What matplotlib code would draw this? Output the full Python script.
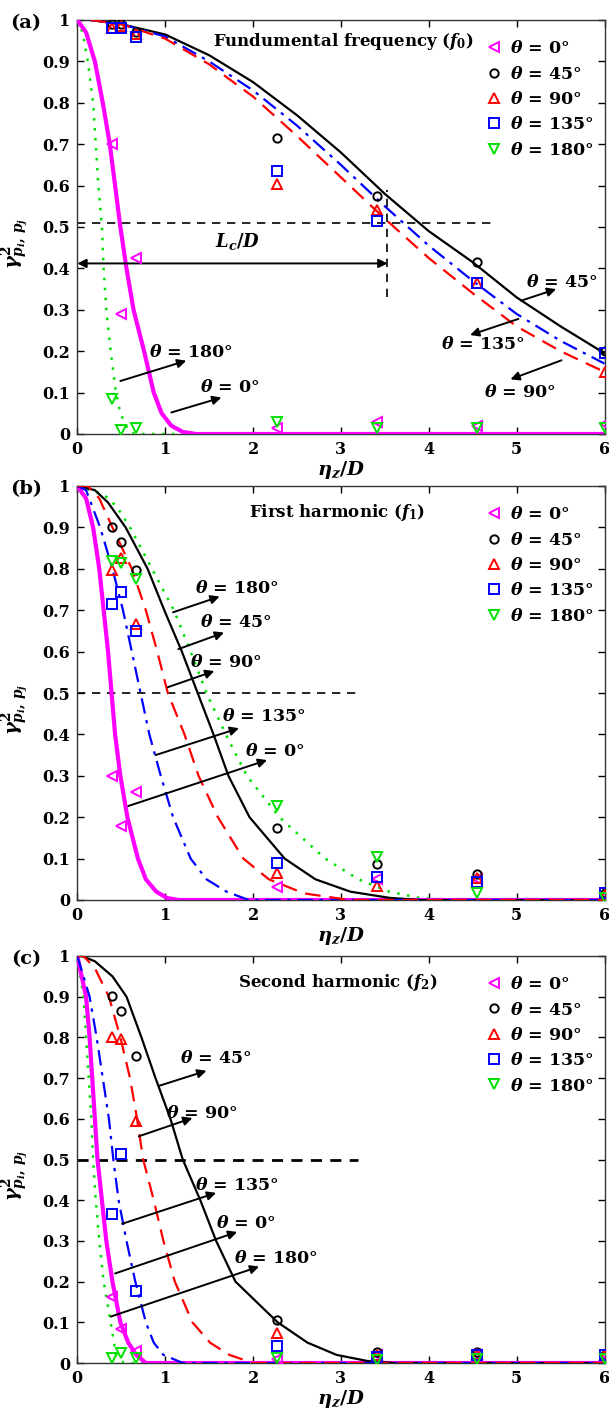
import matplotlib
matplotlib.use("Agg")
import matplotlib.pyplot as plt
import numpy as np

plt.rcParams.update({
    'font.family': 'DejaVu Serif',
    'font.weight': 'bold',
    'mathtext.fontset': 'custom',
    'mathtext.rm': 'DejaVu Serif:bold',
    'mathtext.it': 'DejaVu Serif:italic:bold',
    'mathtext.bf': 'DejaVu Serif:bold',
})

# ---------------- data ----------------
theta_labels = [r'$\theta$ = 0°', r'$\theta$ = 45°', r'$\theta$ = 90°', r'$\theta$ = 135°', r'$\theta$ = 180°']
x_meas = [0.4, 0.5, 0.67, 2.27, 3.41, 4.55, 6.0]

# Panel (a): fundamental frequency
a_m0 = [0.70, 0.29, 0.425, 0.015, 0.03, 0.02, 0.025]
a_m45 = [0.99, 0.99, 0.97, 0.715, 0.575, 0.415, 0.20]
a_m90 = [0.98, 0.985, 0.965, 0.605, 0.54, 0.365, 0.15]
a_m135 = [0.98, 0.98, 0.96, 0.635, 0.515, 0.365, 0.195]
a_m180 = [0.085, 0.01, 0.015, 0.03, 0.015, 0.015, 0.015]

a_c0_x = [0, 0.1, 0.2, 0.29, 0.37, 0.43, 0.49, 0.56, 0.64, 0.76, 0.87, 0.96, 1.07, 1.2, 1.35, 6.0]
a_c0_y = [1, 0.97, 0.9, 0.8, 0.7, 0.6, 0.5, 0.4, 0.3, 0.2, 0.1, 0.05, 0.02, 0.005, 0, 0]
a_c180_x = [0, 0.06, 0.12, 0.18, 0.21, 0.24, 0.28, 0.30, 0.33, 0.38, 0.44, 0.49, 0.58, 0.65, 1.3]
a_c180_y = [1, 0.97, 0.9, 0.8, 0.7, 0.6, 0.5, 0.4, 0.3, 0.2, 0.1, 0.05, 0.01, 0, 0]
a_c_x = [0.15, 0.5, 1.0, 1.5, 2.0, 2.5, 3.0, 3.5, 4.0, 4.5, 5.0, 5.5, 6.0]
a_c45_y = [1.0, 0.99, 0.965, 0.915, 0.85, 0.77, 0.68, 0.58, 0.49, 0.415, 0.33, 0.26, 0.195]
a_c135_y = [1.0, 0.99, 0.96, 0.90, 0.83, 0.745, 0.65, 0.55, 0.455, 0.37, 0.29, 0.225, 0.17]
a_c90_y = [1.0, 0.99, 0.955, 0.893, 0.815, 0.72, 0.62, 0.52, 0.425, 0.34, 0.26, 0.20, 0.15]

# Panel (b): first harmonic
b_m0 = [0.30, 0.178, 0.26, 0.032, 0.05, 0.05, 0.01]
b_m45 = [0.90, 0.864, 0.797, 0.175, 0.086, 0.063, 0.018]
b_m90 = [0.797, 0.825, 0.667, 0.066, 0.034, 0.052, 0.012]
b_m135 = [0.714, 0.745, 0.65, 0.089, 0.056, 0.044, 0.017]
b_m180 = [0.82, 0.815, 0.775, 0.227, 0.104, 0.018, 0.005]

b_c0_x = [0, 0.1, 0.18, 0.25, 0.30, 0.35, 0.39, 0.43, 0.49, 0.57, 0.69, 0.78, 0.90, 1.02, 1.15, 6.0]
b_c0_y = [1, 0.97, 0.9, 0.8, 0.7, 0.6, 0.5, 0.4, 0.3, 0.2, 0.1, 0.05, 0.02, 0.005, 0, 0]
b_c135_x = [0, 0.1, 0.26, 0.40, 0.52, 0.62, 0.72, 0.82, 0.95, 1.09, 1.29, 1.47, 1.70, 1.95, 6.0]
b_c135_y = [1, 0.99, 0.9, 0.8, 0.7, 0.6, 0.5, 0.4, 0.3, 0.2, 0.1, 0.05, 0.02, 0, 0]
b_c90_x = [0, 0.12, 0.25, 0.40, 0.62, 0.78, 0.91, 1.03, 1.22, 1.38, 1.60, 1.89, 2.18, 2.58, 3.1, 6.0]
b_c90_y = [1, 1, 0.97, 0.9, 0.8, 0.7, 0.6, 0.5, 0.4, 0.3, 0.2, 0.1, 0.05, 0.016, 0, 0]
b_c45_x = [0, 0.2, 0.35, 0.55, 0.80, 0.99, 1.19, 1.37, 1.55, 1.72, 1.96, 2.36, 2.71, 3.11, 3.56, 3.9, 6.0]
b_c45_y = [1, 0.99, 0.96, 0.9, 0.8, 0.7, 0.6, 0.5, 0.4, 0.3, 0.2, 0.1, 0.05, 0.02, 0.005, 0, 0]
b_c180_x = [0, 0.3, 0.45, 0.60, 0.85, 1.10, 1.29, 1.47, 1.69, 1.93, 2.30, 2.82, 3.20, 3.55, 3.90, 4.2, 6.0]
b_c180_y = [1, 0.98, 0.95, 0.9, 0.8, 0.7, 0.6, 0.5, 0.4, 0.3, 0.2, 0.1, 0.05, 0.02, 0.005, 0, 0]

# Panel (c): second harmonic
c_m0 = [0.162, 0.084, 0.029, 0.01, 0.02, 0.02, 0.02]
c_m45 = [0.902, 0.866, 0.754, 0.106, 0.028, 0.026, 0.02]
c_m90 = [0.80, 0.795, 0.594, 0.073, 0.02, 0.022, 0.02]
c_m135 = [0.365, 0.514, 0.176, 0.041, 0.015, 0.02, 0.02]
c_m180 = [0.012, 0.024, 0.012, 0.012, 0.008, 0.01, 0.01]

c_c0_x = [0, 0.1, 0.14, 0.17, 0.20, 0.23, 0.28, 0.33, 0.40, 0.49, 0.58, 0.67, 0.78, 6.0]
c_c0_y = [1, 0.9, 0.8, 0.7, 0.6, 0.5, 0.4, 0.3, 0.2, 0.1, 0.05, 0.02, 0, 0]
c_c180_x = [0, 0.07, 0.10, 0.13, 0.16, 0.18, 0.21, 0.25, 0.30, 0.38, 0.44, 0.53, 6.0]
c_c180_y = [1, 0.9, 0.8, 0.7, 0.6, 0.5, 0.4, 0.3, 0.2, 0.1, 0.02, 0, 0]
c_c135_x = [0, 0.14, 0.22, 0.29, 0.36, 0.41, 0.47, 0.56, 0.66, 0.78, 0.87, 0.98, 1.2, 6.0]
c_c135_y = [1, 0.9, 0.8, 0.7, 0.6, 0.5, 0.4, 0.3, 0.2, 0.1, 0.05, 0.02, 0, 0]
c_c90_x = [0, 0.07, 0.2, 0.36, 0.49, 0.60, 0.68, 0.75, 0.87, 0.98, 1.11, 1.31, 1.51, 1.73, 2.0, 6.0]
c_c90_y = [1, 1, 0.97, 0.9, 0.8, 0.7, 0.6, 0.5, 0.4, 0.3, 0.2, 0.1, 0.05, 0.02, 0, 0]
c_c45_x = [0, 0.05, 0.2, 0.4, 0.56, 0.73, 0.89, 1.06, 1.20, 1.40, 1.58, 1.80, 2.28, 2.62, 2.95, 3.3, 3.6, 6.0]
c_c45_y = [1, 1, 0.987, 0.95, 0.9, 0.8, 0.7, 0.6, 0.5, 0.4, 0.3, 0.2, 0.1, 0.05, 0.02, 0.005, 0, 0]

titles = ['Fundumental frequency ($f_0$)', 'First harmonic ($f_1$)', 'Second harmonic ($f_2$)']
panel_tags = ['(a)', '(b)', '(c)']

# annotations: (text, text_x, text_y, tail_x, tail_y, head_x, head_y)
a_notes = [
    (r'$\theta$ = 45°', 5.51, 0.365, 5.05, 0.322, 5.45, 0.35),
    (r'$\theta$ = 135°', 4.62, 0.215, 5.02, 0.278, 4.47, 0.239),
    (r'$\theta$ = 90°', 5.04, 0.10, 5.51, 0.178, 4.93, 0.132),
    (r'$\theta$ = 180°', 1.29, 0.197, 0.49, 0.128, 1.24, 0.177),
    (r'$\theta$ = 0°', 1.73, 0.112, 1.07, 0.052, 1.64, 0.088),
]
b_notes = [
    (r'$\theta$ = 180°', 1.82, 0.752, 1.09, 0.695, 1.62, 0.733),
    (r'$\theta$ = 45°', 1.80, 0.67, 1.15, 0.606, 1.67, 0.646),
    (r'$\theta$ = 90°', 1.69, 0.573, 1.03, 0.514, 1.56, 0.553),
    (r'$\theta$ = 135°', 2.12, 0.443, 0.89, 0.35, 1.84, 0.415),
    (r'$\theta$ = 0°', 2.25, 0.358, 0.58, 0.227, 2.16, 0.338),
]
c_notes = [
    (r'$\theta$ = 45°', 1.58, 0.747, 0.93, 0.681, 1.47, 0.718),
    (r'$\theta$ = 90°', 1.42, 0.614, 0.70, 0.557, 1.31, 0.602),
    (r'$\theta$ = 135°', 1.82, 0.437, 0.51, 0.342, 1.58, 0.418),
    (r'$\theta$ = 0°', 1.92, 0.343, 0.43, 0.22, 1.82, 0.322),
    (r'$\theta$ = 180°', 2.26, 0.257, 0.38, 0.114, 2.07, 0.237),
]

# ---------------- styles ----------------
col = {'m': '#ff00ff', 'k': 'black', 'r': '#ff0000', 'b': '#0000ff', 'g': '#00e000'}
mk = [('<', col['m']), ('o', col['k']), ('^', col['r']), ('s', col['b']), ('v', col['g'])]
ms_list = [7, 6, 7.5, 7.5, 7.5]

fig = plt.figure(figsize=(6.09, 14.12), dpi=100)
L, W = 77.3 / 609, (604.5 - 77.3) / 609
rects = [(20, 434), (486, 900), (956, 1363)]

def style_axes(ax):
    ax.set_xlim(0, 6)
    ax.set_ylim(0, 1)
    ax.set_xticks(range(7))
    ax.set_yticks(np.round(np.arange(0, 1.01, 0.1), 1))
    ax.set_yticklabels(['%g' % v for v in np.round(np.arange(0, 1.01, 0.1), 1)])
    ax.tick_params(direction='in', top=True, right=True, length=5, width=1,
                   labelsize=11.5, pad=5)
    for lab in ax.get_xticklabels() + ax.get_yticklabels():
        lab.set_fontweight('bold')
    for s in ax.spines.values():
        s.set_linewidth(1.0)
        s.set_color('#333333')
    ax.set_xlabel(r'$\eta_z/D$', fontsize=14, labelpad=0.5)
    ax.set_ylabel(r'$\gamma^2_{p_i,\,p_j}$', fontsize=14, labelpad=2)
    ax.yaxis.set_label_coords(-0.088, 0.46)

def markers(ax, series):
    for (m, c), y, ms in zip(mk, series, ms_list):
        ax.plot(x_meas, y, linestyle='none', marker=m, ms=ms, mfc='none',
                mec=c, mew=1.4, zorder=5)

def notes(ax, items):
    for t, tx, ty, x0, y0, x1, y1 in items:
        ax.annotate('', xy=(x1, y1), xytext=(x0, y0),
                    arrowprops=dict(arrowstyle='-|>', color='k', lw=1.4,
                                    mutation_scale=13, shrinkA=0, shrinkB=0), zorder=6)
        ax.text(tx, ty, t, ha='center', va='center', fontsize=12.5, zorder=7)

def legend(ax):
    hs = []
    for (m, c), lab, ms in zip(mk, theta_labels, ms_list):
        h, = ax.plot([], [], linestyle='none', marker=m, ms=ms, mfc='none', mec=c,
                     mew=1.4, label=lab)
        hs.append(h)
    ax.legend(handles=hs, loc='upper right', frameon=False, fontsize=12.5,
              handletextpad=0.3, labelspacing=0.48, borderaxespad=0.25,
              handlelength=1.2, bbox_to_anchor=(1.0, 0.978))

axes = []
for (top, bot) in rects:
    ax = fig.add_axes([L, 1 - bot / 1412, W, (bot - top) / 1412])
    axes.append(ax)

# ---- (a)
ax = axes[0]
ax.plot(a_c180_x, a_c180_y, color=col['g'], ls=(0, (1, 3)), lw=1.8, zorder=3)
ax.plot(a_c0_x, a_c0_y, color=col['m'], lw=3, zorder=3)
ax.plot(a_c_x, a_c45_y, color='k', lw=1.6, zorder=3)
ax.plot(a_c_x, a_c135_y, color=col['b'], ls=(0, (7, 3, 1.5, 3)), lw=1.6, zorder=3)
ax.plot(a_c_x, a_c90_y, color=col['r'], ls=(0, (7, 4)), lw=1.6, zorder=3)
markers(ax, [a_m0, a_m45, a_m90, a_m135, a_m180])
ax.plot([0, 4.78], [0.51, 0.51], color='k', ls=(0, (5, 4)), lw=1.2)
ax.plot([3.53, 3.53], [0.33, 0.59], color='k', ls=(0, (5, 4)), lw=1.2)
ax.annotate('', xy=(0, 0.412), xytext=(3.53, 0.412),
            arrowprops=dict(arrowstyle='<|-|>', color='k', lw=1.4, mutation_scale=13,
                            shrinkA=0, shrinkB=0))
ax.text(1.82, 0.465, r'$L_c/D$', ha='center', va='center', fontsize=13)
notes(ax, a_notes)

# ---- (b)
ax = axes[1]
ax.plot(b_c180_x, b_c180_y, color=col['g'], ls=(0, (1, 3)), lw=1.8, zorder=3)
ax.plot(b_c0_x, b_c0_y, color=col['m'], lw=3, zorder=3)
ax.plot(b_c45_x, b_c45_y, color='k', lw=1.6, zorder=3)
ax.plot(b_c135_x, b_c135_y, color=col['b'], ls=(0, (7, 3, 1.5, 3)), lw=1.6, zorder=3)
ax.plot(b_c90_x, b_c90_y, color=col['r'], ls=(0, (7, 4)), lw=1.6, zorder=3)
markers(ax, [b_m0, b_m45, b_m90, b_m135, b_m180])
ax.plot([0, 3.2], [0.5, 0.5], color='k', ls=(0, (5, 4)), lw=1.2)
notes(ax, b_notes)

# ---- (c)
ax = axes[2]
ax.plot(c_c180_x, c_c180_y, color=col['g'], ls=(0, (1, 3)), lw=1.8, zorder=3)
ax.plot(c_c0_x, c_c0_y, color=col['m'], lw=3, zorder=3)
ax.plot(c_c45_x, c_c45_y, color='k', lw=1.6, zorder=3)
ax.plot(c_c135_x, c_c135_y, color=col['b'], ls=(0, (7, 3, 1.5, 3)), lw=1.6, zorder=3)
ax.plot(c_c90_x, c_c90_y, color=col['r'], ls=(0, (7, 4)), lw=1.6, zorder=3)
markers(ax, [c_m0, c_m45, c_m90, c_m135, c_m180])
ax.plot([0, 3.2], [0.5, 0.5], color='k', ls=(0, (4, 3)), lw=2.0)
notes(ax, c_notes)

title_pos = [(3.03, 0.947), (2.96, 0.935), (2.96, 0.935)]
for ax, t, (tx, ty), tag, (top, bot) in zip(axes, titles, title_pos, panel_tags, rects):
    style_axes(ax)
    legend(ax)
    ax.text(tx, ty, t, ha='center', va='center', fontsize=12, fontweight='bold')
    fig.text(26 / 609, 1 - (top + 3) / 1412, tag, ha='center', va='center',
             fontsize=14, fontweight='bold')

fig.savefig('out.png', dpi=100)
